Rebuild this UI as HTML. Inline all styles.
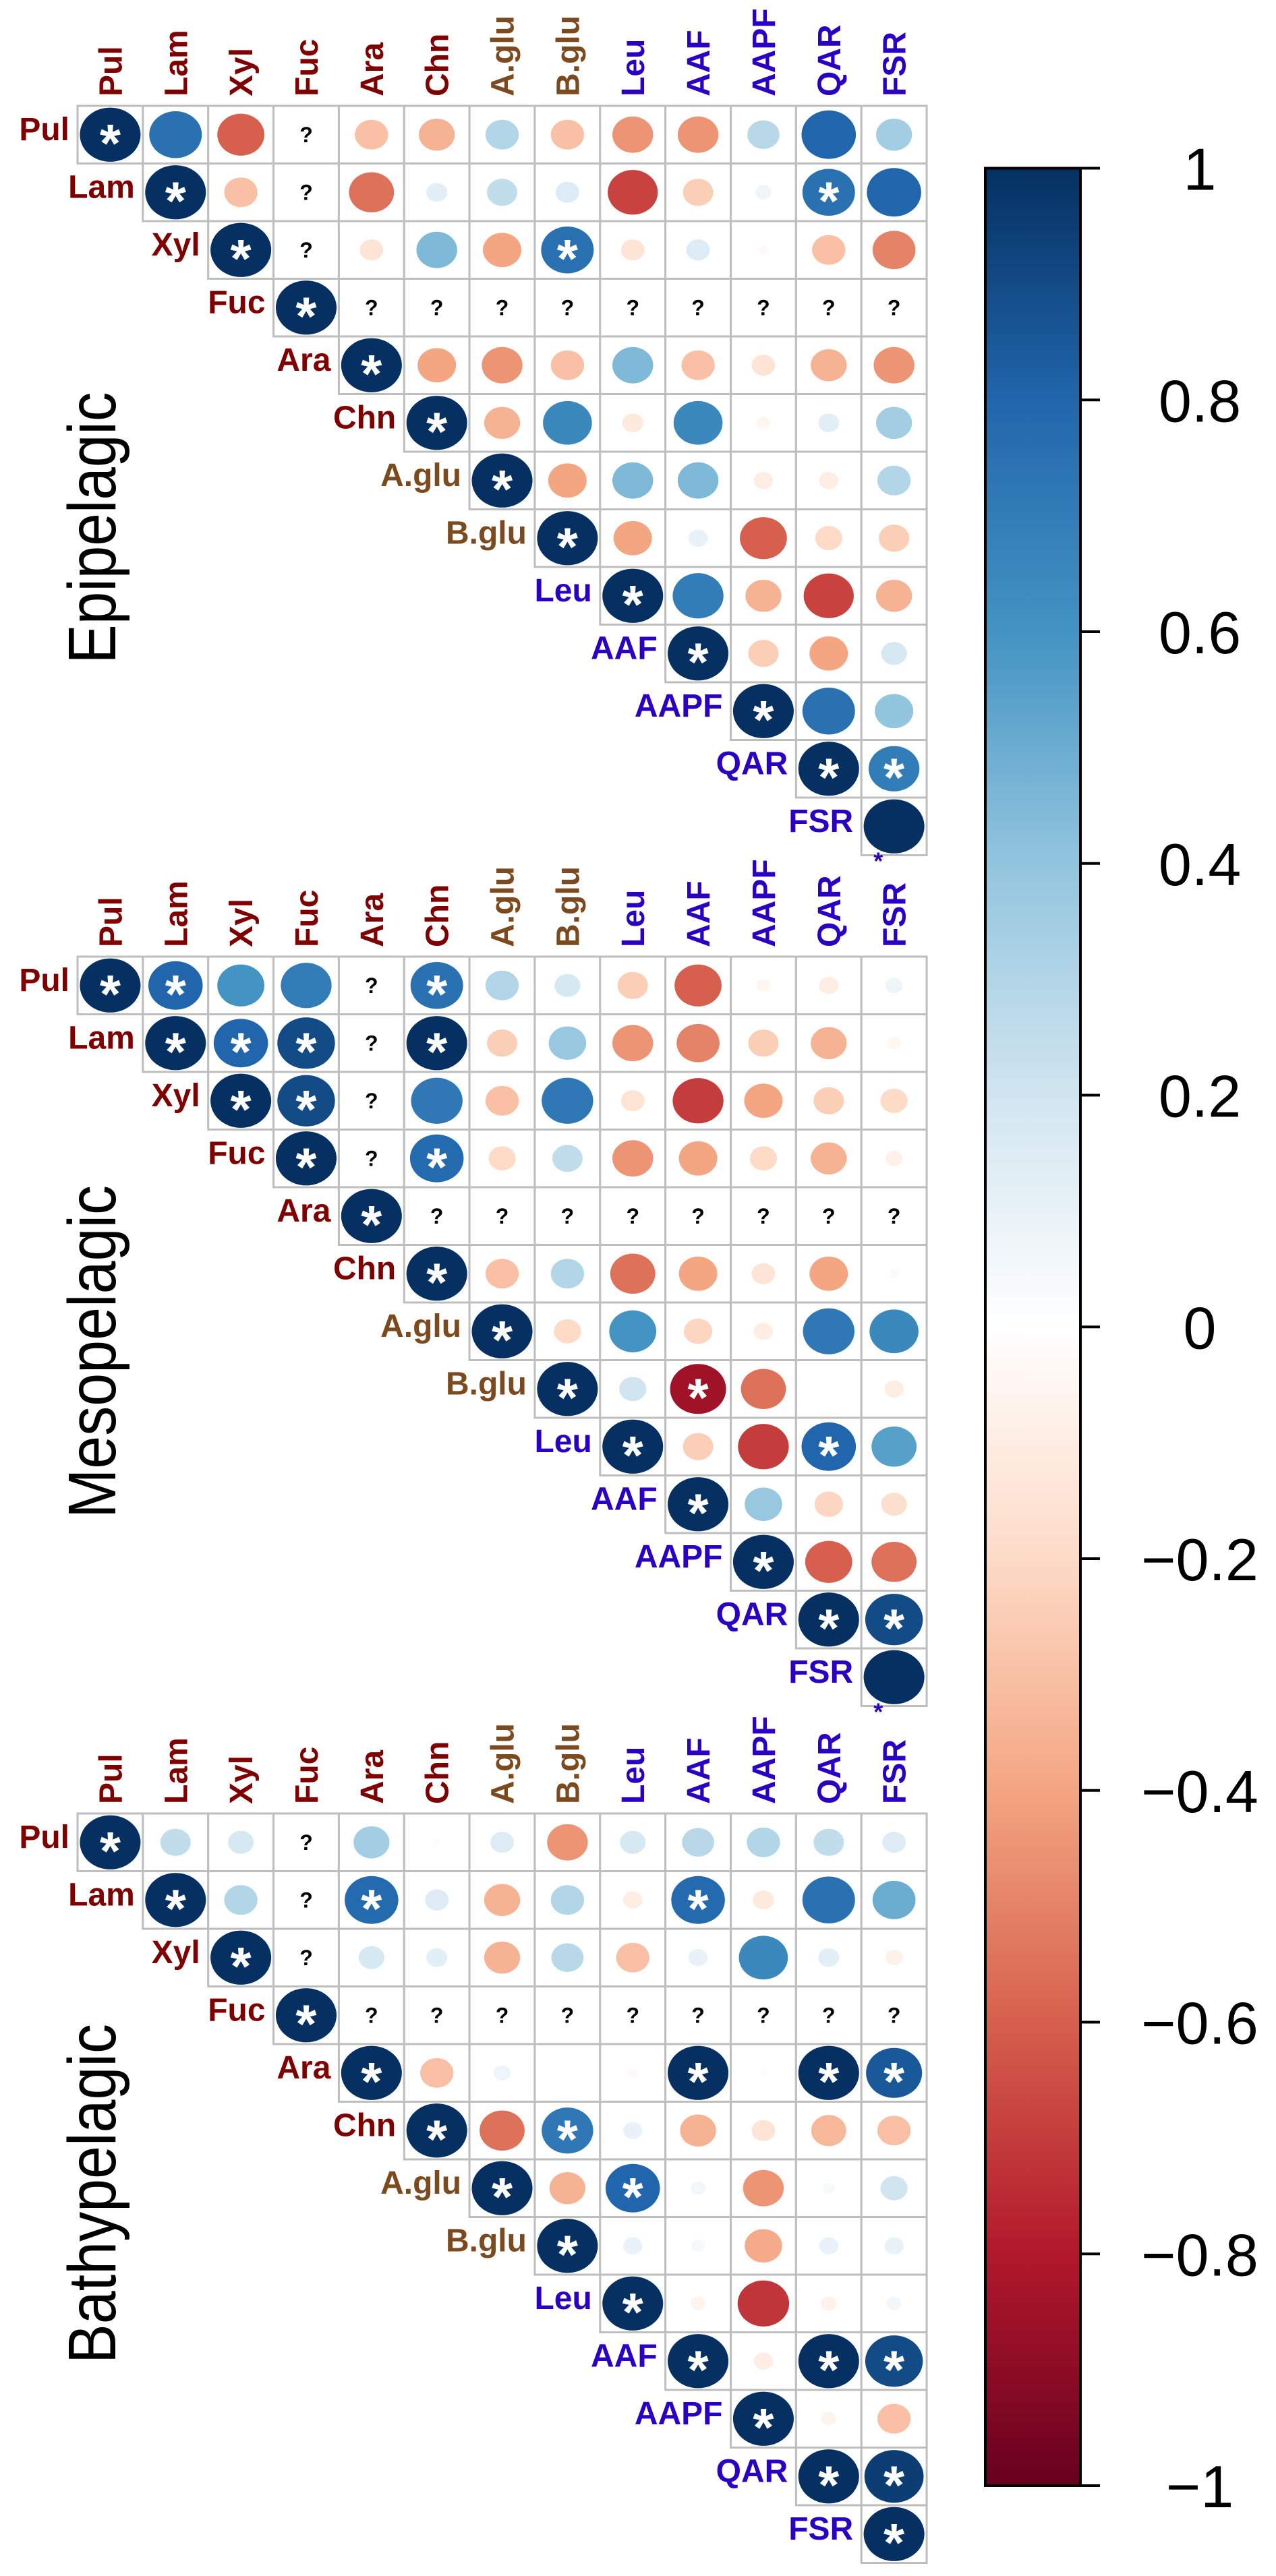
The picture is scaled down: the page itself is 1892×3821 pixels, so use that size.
<!DOCTYPE html>
<html><head><meta charset="utf-8"><title>Correlation panels</title>
<style>html,body{margin:0;padding:0;background:#fff;}svg{display:block;}</style></head>
<body>
<svg id="chart" width="1892" height="3821" viewBox="0 0 1892 3821" xmlns="http://www.w3.org/2000/svg">
<defs>
<linearGradient id="rdbu" x1="0" y1="1" x2="0" y2="0">
<stop offset="0" stop-color="#67001F"/><stop offset="0.1" stop-color="#B2182B"/><stop offset="0.2" stop-color="#D6604D"/><stop offset="0.3" stop-color="#F4A582"/><stop offset="0.4" stop-color="#FDDBC7"/><stop offset="0.5" stop-color="#FFFFFF"/><stop offset="0.6" stop-color="#D1E5F0"/><stop offset="0.7" stop-color="#92C5DE"/><stop offset="0.8" stop-color="#4393C3"/><stop offset="0.9" stop-color="#2166AC"/><stop offset="1" stop-color="#053061"/>
</linearGradient>
</defs>
<g id="panels"></g>
<g id="legend"></g>
</svg>
<script>
const variables = ["Pul","Lam","Xyl","Fuc","Ara","Chn","A.glu","B.glu","Leu","AAF","AAPF","QAR","FSR"];
const labelGroups = [0,0,0,0,0,0,1,1,2,2,2,2,2];
const panelTitles = ["Epipelagic","Mesopelagic","Bathypelagic"];
const legendTicks = [1,0.8,0.6,0.4,0.2,0,-0.2,-0.4,-0.6,-0.8,-1];
const legendTickLabels = ["1","0.8","0.6","0.4","0.2","0","\u22120.2","\u22120.4","\u22120.6","\u22120.8","\u22121"];

// upper-triangle rows: row i lists values for columns i..12 (null = NA)
const epiValues = [
 [1,0.75,-0.6,null,-0.3,-0.35,0.3,-0.3,-0.45,-0.45,0.28,0.8,0.35],
 [1,-0.3,null,-0.55,0.12,0.25,0.15,-0.68,-0.25,0.07,0.75,0.8],
 [1,null,-0.15,0.45,-0.4,0.75,-0.15,0.15,-0.03,-0.3,-0.5],
 [1,null,null,null,null,null,null,null,null,null],
 [1,-0.4,-0.45,-0.3,0.45,-0.3,-0.15,-0.35,-0.45],
 [1,-0.35,0.65,-0.12,0.65,-0.05,0.12,0.35],
 [1,-0.4,0.45,0.45,-0.1,-0.1,0.3],
 [1,-0.4,0.1,-0.6,-0.2,-0.25],
 [1,0.7,-0.35,-0.68,-0.35],
 [1,-0.25,-0.4,0.18],
 [1,0.75,0.4],
 [1,0.7],
 [1]
];
const epiSig = [
 [1,0,0,0,0,0,0,0,0,0,0,0,0],
 [1,0,0,0,0,0,0,0,0,0,1,0],
 [1,0,0,0,0,1,0,0,0,0,0],
 [1,0,0,0,0,0,0,0,0,0],
 [1,0,0,0,0,0,0,0,0],
 [1,0,0,0,0,0,0,0],
 [1,0,0,0,0,0,0],
 [1,0,0,0,0,0],
 [1,0,0,0,0],
 [1,0,0,0],
 [1,0,0],
 [1,1],
 [2]
];
const mesoValues = [
 [1,0.8,0.6,0.7,null,0.75,0.3,0.18,-0.25,-0.6,-0.05,-0.1,0.08],
 [1,0.8,0.9,null,1,-0.25,0.38,-0.45,-0.5,-0.25,-0.35,-0.05],
 [1,0.9,null,0.72,-0.3,0.72,-0.15,-0.7,-0.4,-0.25,-0.2],
 [1,null,0.78,-0.2,0.25,-0.45,-0.4,-0.2,-0.35,-0.08],
 [1,null,null,null,null,null,null,null,null],
 [1,-0.3,0.3,-0.55,-0.4,-0.15,-0.4,-0.03],
 [1,-0.2,0.6,-0.22,-0.1,0.72,0.65],
 [1,0.2,-0.85,-0.55,0,-0.1],
 [1,-0.25,-0.7,0.8,0.55],
 [1,0.38,-0.22,-0.18],
 [1,-0.6,-0.55],
 [1,0.9],
 [1]
];
const mesoSig = [
 [1,1,0,0,0,1,0,0,0,0,0,0,0],
 [1,1,1,0,1,0,0,0,0,0,0,0],
 [1,1,0,0,0,0,0,0,0,0,0],
 [1,0,1,0,0,0,0,0,0,0],
 [1,0,0,0,0,0,0,0,0],
 [1,0,0,0,0,0,0,0],
 [1,0,0,0,0,0,0],
 [1,0,1,0,0,0],
 [1,0,0,1,0],
 [1,0,0,0],
 [1,0,0],
 [1,1],
 [2]
];
const bathyValues = [
 [1,0.25,0.18,null,0.35,0.02,0.15,-0.45,0.18,0.28,0.3,0.25,0.15],
 [1,0.3,null,0.78,0.15,-0.35,0.3,-0.1,0.78,-0.12,0.75,0.5],
 [1,null,0.18,0.12,-0.35,0.28,-0.3,0.1,0.65,0.12,-0.08],
 [1,null,null,null,null,null,null,null,null,null],
 [1,-0.3,0.08,0.01,-0.03,1,-0.02,1,0.85],
 [1,-0.55,0.72,0.1,-0.35,-0.15,-0.33,-0.3],
 [1,-0.35,0.8,0.06,-0.45,0.04,0.2],
 [1,0.1,0.05,-0.38,0.1,0.1],
 [1,-0.06,-0.72,-0.07,0.06],
 [1,-0.1,1,0.9],
 [1,-0.06,-0.3],
 [1,0.95],
 [1]
];
const bathySig = [
 [1,0,0,0,0,0,0,0,0,0,0,0,0],
 [1,0,0,1,0,0,0,0,1,0,0,0],
 [1,0,0,0,0,0,0,0,0,0,0],
 [1,0,0,0,0,0,0,0,0,0],
 [1,0,0,0,0,1,0,1,1],
 [1,0,1,0,0,0,0,0],
 [1,0,1,0,0,0,0],
 [1,0,0,0,0,0],
 [1,0,0,0,0],
 [1,0,1,1],
 [1,0,0],
 [1,1],
 [1]
];

const NS = "http://www.w3.org/2000/svg";
const labelColors = ["#7F0000","#7B4A1E","#2A00C2"];
const rampStops = ["#67001F","#B2182B","#D6604D","#F4A582","#FDDBC7","#FFFFFF","#D1E5F0","#92C5DE","#4393C3","#2166AC","#053061"];
function hex(c){return [parseInt(c.substr(1,2),16),parseInt(c.substr(3,2),16),parseInt(c.substr(5,2),16)];}
function colorOf(v){
  const t=(v+1)/2*(rampStops.length-1);
  const i=Math.max(0,Math.min(rampStops.length-2,Math.floor(t)));
  const f=t-i; const a=hex(rampStops[i]), b=hex(rampStops[i+1]);
  return "rgb("+a.map((x,k)=>Math.round(x+(b[k]-x)*f)).join(",")+")";
}
function mk(tag,attrs,parent){const e=document.createElementNS(NS,tag);for(const k in attrs)e.setAttribute(k,attrs[k]);parent.appendChild(e);return e;}

const gridLeft=115, cellW=96.85, cellH=85.5;
const panelTops=[157,1419,2690];
const titleCenters=[783,2005,3254];
const titleLengths=[403,494,504];
const panelValues=[epiValues,mesoValues,bathyValues];
const panelSig=[epiSig,mesoSig,bathySig];
function xScale(j){return gridLeft+j*cellW;}
function yScale(p,i){return panelTops[p]+i*cellH;}

const root=document.getElementById("panels");
for(let p=0;p<3;p++){
  const g=mk("g",{},root);
  
  
  const title=mk("text",{x:0,y:0,transform:"translate(171,"+titleCenters[p]+") rotate(-90)","text-anchor":"middle","font-family":"'Liberation Sans',sans-serif","font-size":100,textLength:titleLengths[p],lengthAdjust:"spacingAndGlyphs",fill:"#000"},g);
  title.textContent=panelTitles[p];
  
  
  const n=variables.length;
  for(let j=0;j<n;j++){
    const cx=xScale(j)+cellW/2;
    const t=mk("text",{transform:"translate("+(cx+17)+","+(yScale(p,0)-14)+") rotate(-90)","text-anchor":"start","font-family":"'Liberation Sans',sans-serif","font-weight":"bold","font-size":48,fill:labelColors[labelGroups[j]]},g);
    t.textContent=variables[j];
    
    
  }
  for(let i=0;i<n;i++){
    const cy=yScale(p,i)+cellH/2;
    const rl=mk("text",{x:xScale(i)-12,y:cy+8,"text-anchor":"end","font-family":"'Liberation Sans',sans-serif","font-weight":"bold","font-size":48,fill:labelColors[labelGroups[i]]},g);
    rl.textContent=variables[i];
    
    
    const row=panelValues[p][i], sig=panelSig[p][i];
    for(let k=0;k<row.length;k++){
      const j=i+k;
      const x0=xScale(j), y0=yScale(p,i), ccx=x0+cellW/2;
      const cell=mk("rect",{x:x0,y:y0,width:cellW,height:cellH,fill:"#fff",stroke:"#BEBEBE","stroke-width":3},g);
      
      
      const v=row[k];
      if(v===null){
        const q=mk("text",{x:ccx,y:cy+11,"text-anchor":"middle","font-family":"'Liberation Sans',sans-serif","font-weight":"bold","font-size":32,fill:"#000"},g);
        q.textContent="?";
        
        
        continue;
      }
      const s=Math.sqrt(Math.abs(v));
      if(s>0.01){
        const el=mk("ellipse",{cx:ccx,cy:cy,rx:0.465*cellW*s,ry:0.47*cellH*s,fill:colorOf(v)},g);
        
        
      }
      if(sig[k]===1){
        const a=mk("text",{x:ccx,y:cy+40,"text-anchor":"middle","font-family":"'Liberation Sans',sans-serif","font-weight":"bold","font-size":80,fill:"#fff"},g);
        a.textContent="*";
        
        
      } else if(sig[k]===2){
        const a=mk("text",{x:x0+25,y:y0+cellH+21,"text-anchor":"middle","font-family":"'Liberation Sans',sans-serif","font-weight":"bold","font-size":36,fill:"#2A00C2"},g);
        a.textContent="*";
        
        
      }
    }
  }
}

// legend
const leg=document.getElementById("legend");
const barX=1461, barW=141, barTop=249.5, barBottom=3687;
function legendY(v){return barTop+(1-v)/2*(barBottom-barTop);}
const bar=mk("rect",{x:barX,y:barTop,width:barW,height:barBottom-barTop,fill:"url(#rdbu)",stroke:"#000","stroke-width":4},leg);


legendTicks.forEach((v,i)=>{
  const y=legendY(v);
  const tk=mk("line",{x1:barX+barW,x2:1631,y1:y,y2:y,stroke:"#000","stroke-width":4},leg);
  
  
  const tl=mk("text",{x:1779,y:y+32,"text-anchor":"middle","font-family":"'Liberation Sans',sans-serif","font-size":88,fill:"#000"},leg);
  tl.textContent=legendTickLabels[i];
  
  
});
</script>
</body></html>
